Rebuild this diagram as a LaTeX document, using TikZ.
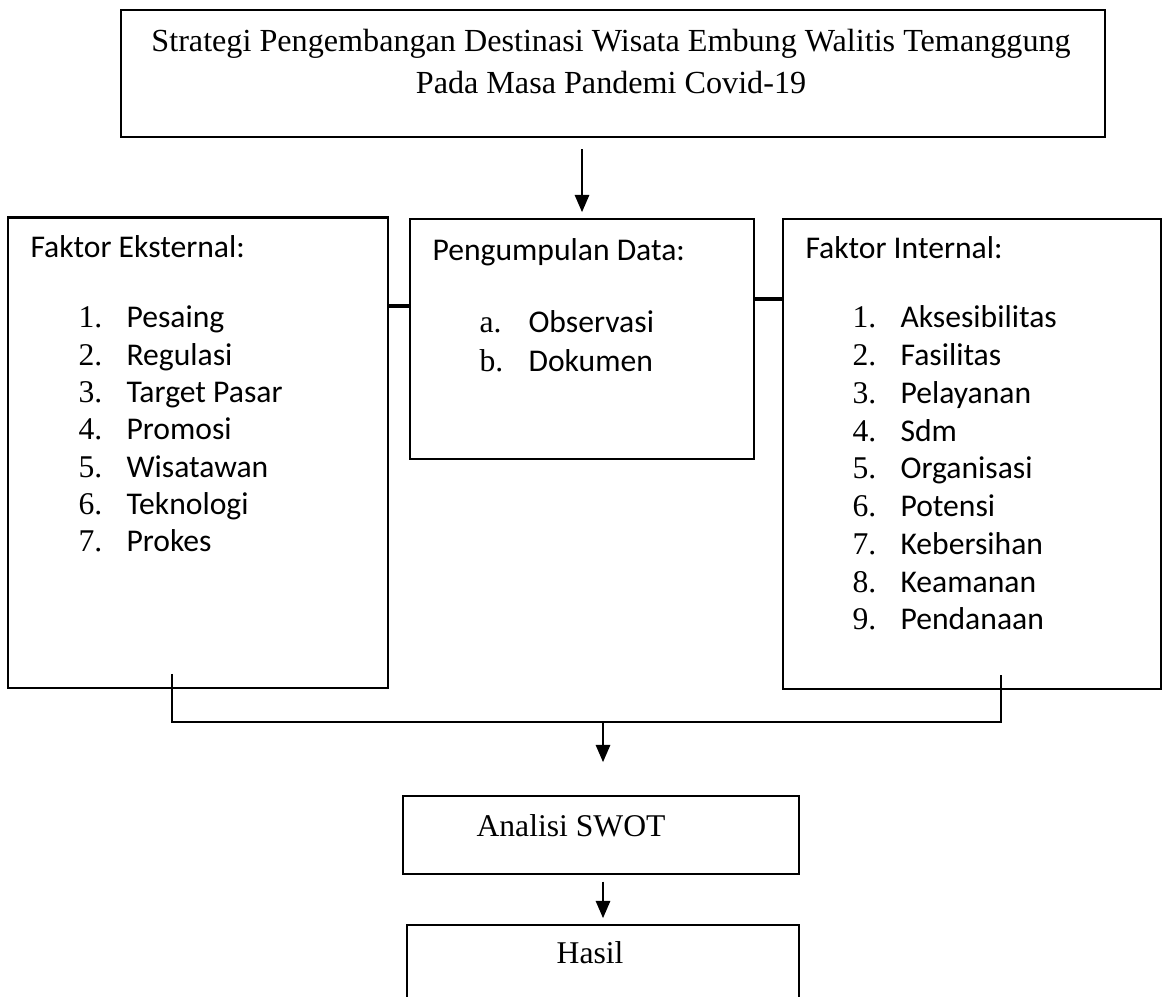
\documentclass[tikz,border=0pt]{standalone}
\usepackage{fontspec}
\setmainfont{Liberation Serif}
\newfontfamily\calibri{Carlito}
\usetikzlibrary{arrows.meta}
\newcommand{\ukuran}{\fontsize{12}{14.5}\selectfont}
\tikzset{
  kotak/.style={draw, line width=0.7pt, inner sep=0pt},
  teks/.style={anchor=base west, inner sep=0pt, font=\ukuran},
  isi/.style={teks, font=\ukuran\calibri},
  panah/.style={-{Triangle[length=6.5pt,width=5.5pt]}, line width=0.5pt},
  hubung/.style={line width=1.2pt},
  gabungan/.style={line width=0.6pt}
}
\begin{document}
\begin{tikzpicture}
\path[use as bounding box, clip] (0,0) rectangle (15.493,13.28);
% Draw boxes
\node[kotak, minimum width=13.12cm, minimum height=1.693cm] (judul) at (8.173,12.30) {};
\node[kotak, minimum width=5.067cm, minimum height=6.267cm] (eks) at (2.64,7.24) {};
\node[kotak, minimum width=4.587cm, minimum height=3.2cm] (data) at (7.76,8.76) {};
\node[kotak, minimum width=5.04cm, minimum height=6.267cm] (int) at (12.96,7.227) {};
\node[kotak, minimum width=5.28cm, minimum height=1.04cm] (swot) at (8.013,2.147) {};
\node[kotak, minimum width=5.227cm, minimum height=1.5cm] (hasil) at (8.04,0.197) {};
\draw[line width=1.1pt] (eks.north west) -- (eks.north east);
% Draw connectors
\draw[panah, shorten <=0.15cm, shorten >=0.08cm] (judul.south -| data.north) -- (data.north);
\draw[hubung] (eks.east |- 0,9.2) -- (data.west |- 0,9.2);
\draw[hubung] (data.east |- 0,9.293) -- (int.west |- 0,9.293);
\coordinate (gabung) at (8.04,3.653);
\draw[gabungan] ([xshift=-0.347cm, yshift=0.2cm]eks.south) |- (gabung) -| ([xshift=0.387cm, yshift=0.2cm]int.south);
\draw[panah, shorten >=0.44cm] (gabung) -- (gabung |- swot.north);
\draw[panah, shorten <=0.09cm, shorten >=0.08cm] (swot.south -| gabung) -- (hasil.north -| gabung);
% Draw labels
\node[anchor=north, align=center, inner sep=0pt, font=\fontsize{12.2}{15.9}\selectfont] (judulteks) at (8.147,12.9)
  {Strategi Pengembangan Destinasi Wisata Embung Walitis Temanggung\\Pada Masa Pandemi Covid-19};
\node[isi] (ekslabel) at (0.4,9.84) {Faktor Eksternal:};
\foreach \nama [count=\i] in {Pesaing, Regulasi, Target Pasar, Promosi, Wisatawan, Teknologi, Prokes}
{
  \node[teks] (eksno\i) at (1.04,{9.404-0.497*\i}) {\i.};
  \node[isi] (eks\i) at (1.68,{9.404-0.497*\i}) {\nama};
}
\node[isi] (datalabel) at (5.76,9.8) {Pengumpulan Data:};
\node[teks] (datano1) at (6.387,8.84) {a.};
\node[isi] (data1) at (7.04,8.84) {Observasi};
\node[teks] (datano2) at (6.387,8.32) {b.};
\node[isi] (data2) at (7.04,8.32) {Dokumen};
\node[isi] (intlabel) at (10.733,9.827) {Faktor Internal:};
\foreach \nama [count=\i] in {Aksesibilitas, Fasilitas, Pelayanan, Sdm, Organisasi, Potensi, Kebersihan, Keamanan, Pendanaan}
{
  \node[teks] (intno\i) at (11.36,{9.41-0.503*\i}) {\i.};
  \node[isi] (int\i) at (12.0,{9.41-0.503*\i}) {\nama};
}
\node[teks] (swotteks) at (6.347,2.133) {Analisi SWOT};
\node[teks, anchor=base] (hasilteks) at (7.867,0.427) {Hasil};
\end{tikzpicture}
\end{document}
